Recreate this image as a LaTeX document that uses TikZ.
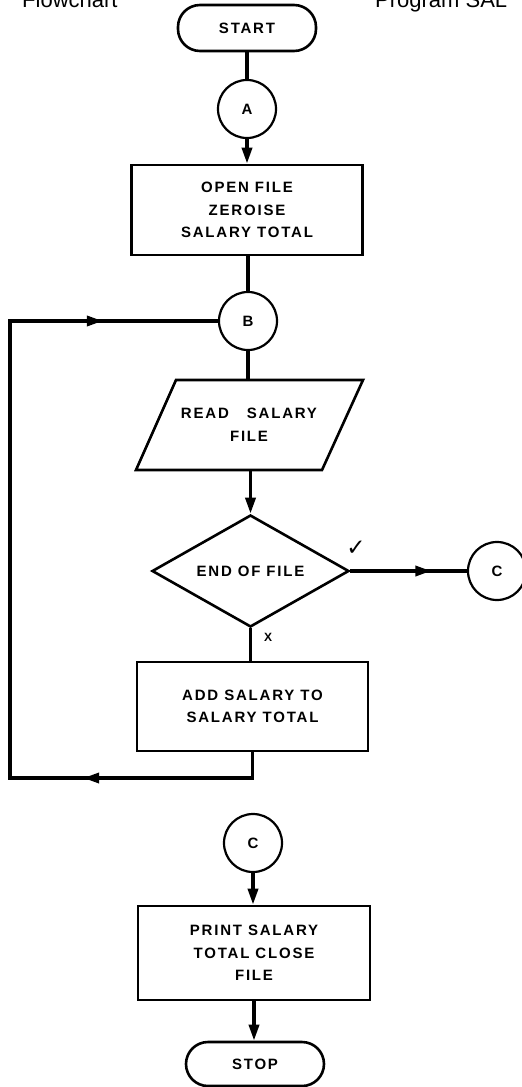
\documentclass[tikz,border=0pt]{standalone}
\usepackage{fontspec}
\usetikzlibrary{arrows.meta,shapes.geometric,decorations.markings}
\newfontfamily\lblfont[LetterSpace=12]{Liberation Sans}
\newfontfamily\headfont{Liberation Sans}
\newfontfamily\symfont{DejaVu Sans}
\newcommand{\lbl}{\lblfont\bfseries\fontsize{15}{22.5}\selectfont}
\tikzset{
  boxline/.style={draw, line width=2.6pt},
  proc/.style={boxline, rectangle, minimum width=231pt, minimum height=90pt, inner sep=0pt, font=\lbl, align=center},
  term/.style={boxline, rectangle, rounded corners=22pt, minimum width=138pt, minimum height=46pt, inner sep=0pt, font=\lbl},
  conn/.style={draw, circle, line width=2.2pt, minimum size=58pt, inner sep=0pt, font=\lbl},
  dec/.style={boxline, diamond, aspect=1.76, minimum width=197pt, minimum height=112pt, inner sep=0pt, font=\lbl},
  flow/.style={line width=3.5pt},
  tip/.style={-{Triangle[length=16pt,width=10pt]}},
  midarrow/.style={postaction={decorate, decoration={markings, mark=at position #1 with {\arrow{Triangle[length=16pt,width=10pt]}}}}},
}
\begin{document}
\begin{tikzpicture}[x=1pt,y=-1pt]
\useasboundingbox (0,0) rectangle (522,1087);
\clip (0,0) rectangle (522,1087);
% cut-off headings
\node[font=\headfont\fontsize{22}{24}\selectfont, anchor=base west, inner sep=0pt] (hl) at (22,7) {Flowchart};
\node[font=\headfont\fontsize{22}{24}\selectfont, anchor=base west, inner sep=0pt] (hr) at (375,7) {Program SAL};
% nodes
\node[term] (start) at (247,28) {START};
\node[conn] (A) at (247,109) {A};
\node[proc] (open) at (247,210) {OPEN FILE\\ZEROISE\\SALARY TOTAL};
\node[conn] (B) at (248,321) {B};
\node[inner sep=0pt, minimum width=187pt, minimum height=90pt, font=\lbl, align=center] (read) at (249,425) {READ\hspace{1.2em}SALARY\\FILE};
\draw[boxline] (176,380) -- (363,380) -- (322,470) -- (136,470) -- cycle;
\node[dec] (eof) at (250.5,571) {END OF FILE};
\node[conn] (C1) at (497,571) {C};
\node[proc, minimum height=89pt] (add) at (252.5,706.5) {ADD SALARY TO\\SALARY TOTAL};
\node[conn] (C2) at (253,843) {C};
\node[proc, minimum width=232pt, minimum height=94pt] (print) at (254,953) {PRINT SALARY\\TOTAL CLOSE\\FILE};
\node[term, minimum height=44pt] (stop) at (255,1064) {STOP};
% labels
\node[font=\symfont\bfseries\fontsize{23}{23}\selectfont, inner sep=0pt] (yes) at (356,548) {✓};
\node[font=\lblfont\bfseries\fontsize{12}{12}\selectfont, inner sep=0pt] (no) at (268,637) {X};
% connectors
\coordinate (lb) at (10,778);
\draw[flow] (start.south) -- (A.north);
\draw[flow, tip] (A.south) -- (open.north);
\draw[flow] (open.south -| B.south) -- (B.north);
\draw[flow] (B.south) -- (B.south |- read.north);
\draw[flow, tip] (eof.north |- read.south) -- (eof.north);
\draw[flow, midarrow=81pt] (eof.east) -- (C1.west);
\draw[flow] (eof.south) -- (eof.south |- add.north);
\draw[flow, midarrow=195pt, midarrow=818pt] (add.south) |- (lb) |- (B.west);
\draw[flow, tip] (C2.south) -- (C2.south |- print.north);
\draw[flow, tip] (print.south) -- (print.south |- stop.north);
\end{tikzpicture}
\end{document}
